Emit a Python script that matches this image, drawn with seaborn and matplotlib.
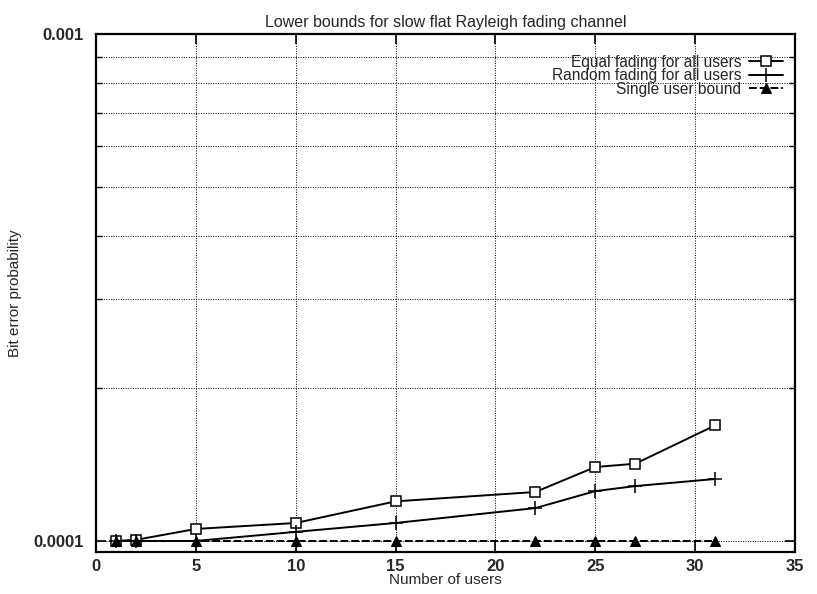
import matplotlib
matplotlib.use("Agg")
import matplotlib.pyplot as plt
from matplotlib.ticker import FixedLocator, NullFormatter
import seaborn as sns
import pandas as pd

users = [1, 2, 5, 10, 15, 22, 25, 27, 31]
equal_fading = [1.0e-4, 1.005e-4, 1.056e-4, 1.085e-4, 1.197e-4, 1.249e-4, 1.399e-4, 1.420e-4, 1.690e-4]
random_fading = [1.0e-4, 1.0e-4, 1.0e-4, 1.042e-4, 1.085e-4, 1.161e-4, 1.254e-4, 1.283e-4, 1.325e-4]
single_user = [1.0e-4] * 9

series_names = ["Equal fading for all users", "Random fading for all users", "Single user bound"]

sns.set_style("ticks")
plt.rcParams["font.family"] = ["Liberation Sans", "DejaVu Sans"]

fig = plt.figure(figsize=(8.17, 5.94), dpi=100)
ax = fig.add_axes([0.1175, 0.0707, 0.8556, 0.8721])

df = pd.DataFrame({"users": users * 3,
                   "ber": equal_fading + random_fading + single_user,
                   "series": [series_names[0]] * 9 + [series_names[1]] * 9 + [series_names[2]] * 9})

styles = {
    series_names[0]: dict(marker="s", markersize=7, markerfacecolor="white", markeredgecolor="black",
                          markeredgewidth=1.1, linestyle="-"),
    series_names[1]: dict(marker="+", markersize=10, markeredgecolor="black", markeredgewidth=1.1,
                          linestyle="-"),
    series_names[2]: dict(marker="^", markersize=7.5, markerfacecolor="black", markeredgecolor="black",
                          linestyle=(0, (4, 1.5))),
}
for name in series_names:
    sub = df[df["series"] == name]
    sns.lineplot(data=sub, x="users", y="ber", ax=ax, color="black", linewidth=1.4,
                 label=name, **styles[name])

ax.set_yscale("log")
ax.set_xlim(0, 35)
ax.set_ylim(9.51e-5, 1e-3)

ax.set_xticks([0, 5, 10, 15, 20, 25, 30, 35])
ax.set_xticklabels(["0", "5", "10", "15", "20", "25", "30", "35"])
ax.yaxis.set_major_locator(FixedLocator([1e-4, 1e-3]))
ax.set_yticklabels(["0.0001", "0.001"])
ax.yaxis.set_minor_locator(FixedLocator([k * 1e-4 for k in range(2, 10)]))
ax.yaxis.set_minor_formatter(NullFormatter())

for lab in ax.get_xticklabels() + ax.get_yticklabels():
    lab.set_fontsize(12)
    lab.set_fontweight("bold")

ax.tick_params(which="both", direction="in", top=True, right=True, color="black")
ax.tick_params(which="major", length=7, width=1.2)
ax.tick_params(axis="y", which="major", pad=9)
ax.tick_params(axis="x", which="major", pad=5)
ax.tick_params(which="minor", length=4, width=1.0)

for x in [5, 10, 15, 20, 25, 30]:
    ax.axvline(x, color="black", linestyle=(0, (1, 1.5)), linewidth=0.7, zorder=0)
for y in [k * 1e-4 for k in range(1, 10)]:
    ax.axhline(y, color="black", linestyle=(0, (1, 1.5)), linewidth=0.7, zorder=0)

for sp in ax.spines.values():
    sp.set_color("black")
    sp.set_linewidth(1.6)

ax.set_xlabel("Number of users", fontsize=11, labelpad=-1)
ax.set_ylabel("Bit error probability", fontsize=11)
ax.yaxis.set_label_coords(-0.106, 0.5)
ax.set_title("Lower bounds for slow flat Rayleigh fading channel", fontsize=11.5, pad=5)

ax.legend(loc="upper right", frameon=False, markerfirst=False, fontsize=11.2,
          handlelength=2.2, handletextpad=0.5, labelspacing=-0.1,
          borderaxespad=0.0, bbox_to_anchor=(0.992, 0.972))

fig.savefig("out.png", dpi=100)
